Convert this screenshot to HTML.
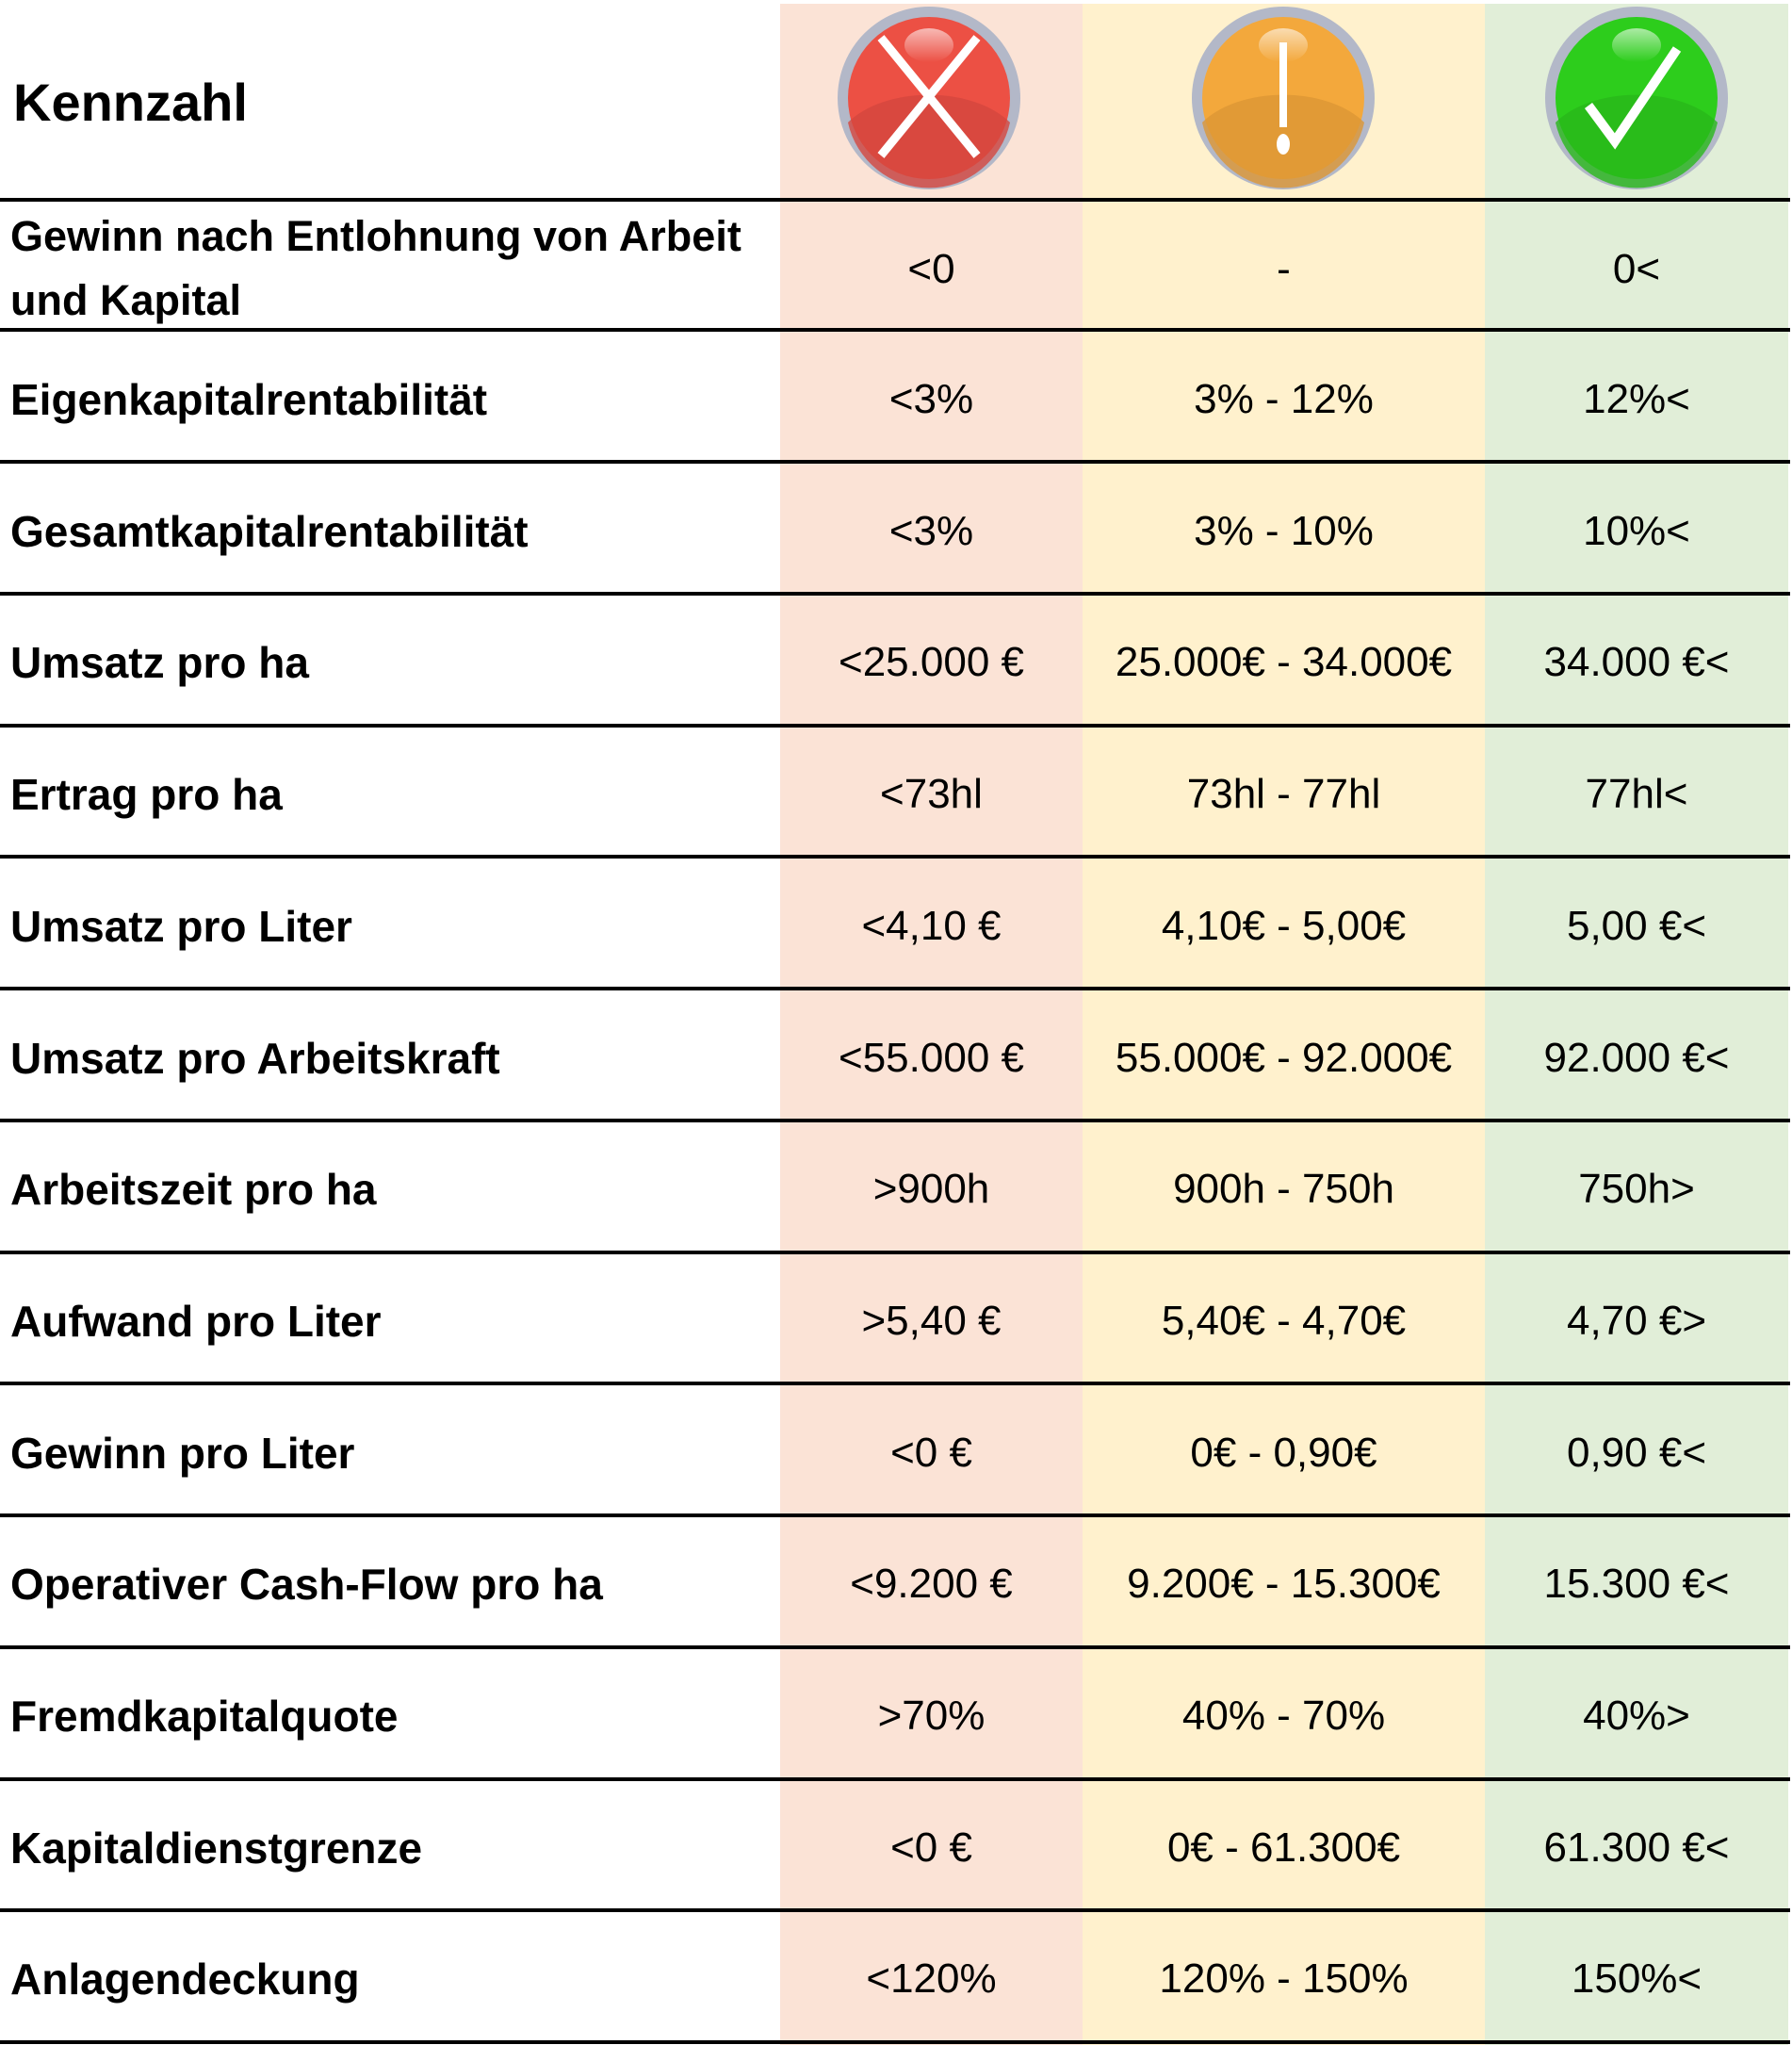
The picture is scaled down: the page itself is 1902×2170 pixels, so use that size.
<!DOCTYPE html>
<html><head><meta charset="utf-8"><style>
body{margin:0;width:1902px;height:2170px;background:#fff;position:relative;overflow:hidden;font-family:"Liberation Sans",sans-serif;}
.col{position:absolute;top:4px;height:2166px}
.line{position:absolute;left:0;width:1900px;height:4px;background:#000}
.lab{position:absolute;left:11px;font-weight:bold;font-size:46px;line-height:48px;color:#000;white-space:nowrap}
.v{position:absolute;font-size:44px;text-align:center;color:#000;line-height:48px}
</style></head><body>
<div class="col" style="left:828px;width:321px;background:#fbe3d6"></div>
<div class="col" style="left:1149px;width:427px;background:#fff1cd"></div>
<div class="col" style="left:1576px;width:322px;background:#e1eed8"></div>
<div style="position:absolute;left:14px;top:76px;font-weight:bold;font-size:56px">Kennzahl</div>
<svg style="position:absolute;left:0;top:0" width="1902" height="212">
<defs>
<linearGradient id="hl" x1="0" y1="0" x2="0" y2="1"><stop offset="0" stop-color="#fff" stop-opacity=".6"/><stop offset="1" stop-color="#fff" stop-opacity="0"/></linearGradient>
</defs>
<g>
<circle cx="986" cy="104" r="97" fill="#b3b8c8"/><circle cx="986" cy="104" r="86" fill="#ec5044"/>
<path d="M900 130 A88 88 0 0 0 1072 130 A100 60 0 0 0 900 130Z" fill="#d4463e" opacity=".8"/>
<ellipse cx="986" cy="48" rx="26" ry="18" fill="url(#hl)"/>
<path d="M935 40 L1037 165 M1037 40 L935 165" stroke="#fff" stroke-width="9"/>
</g>
<g>
<circle cx="1362" cy="104" r="97" fill="#b3b8c8"/><circle cx="1362" cy="104" r="86" fill="#f3a83c"/>
<path d="M1276 130 A88 88 0 0 0 1448 130 A100 60 0 0 0 1276 130Z" fill="#dc9634" opacity=".8"/>
<ellipse cx="1362" cy="48" rx="26" ry="18" fill="url(#hl)"/>
<rect x="1358" y="45" width="8" height="90" fill="#fff"/><ellipse cx="1362" cy="153" rx="7" ry="11" fill="#fff"/>
</g>
<g>
<circle cx="1737" cy="104" r="97" fill="#b3b8c8"/><circle cx="1737" cy="104" r="86" fill="#2dcd1c"/>
<path d="M1651 130 A88 88 0 0 0 1823 130 A100 60 0 0 0 1651 130Z" fill="#28b81a" opacity=".8"/>
<ellipse cx="1737" cy="48" rx="26" ry="18" fill="url(#hl)"/>
<path d="M1686 112 L1714 150 L1780 52" stroke="#fff" stroke-width="10" fill="none"/>
</g>
</svg>
<div class="line" style="top:210px"></div>
<div class="line" style="top:348px"></div>
<div class="line" style="top:488px"></div>
<div class="line" style="top:628px"></div>
<div class="line" style="top:768px"></div>
<div class="line" style="top:907px"></div>
<div class="line" style="top:1047px"></div>
<div class="line" style="top:1187px"></div>
<div class="line" style="top:1327px"></div>
<div class="line" style="top:1466px"></div>
<div class="line" style="top:1606px"></div>
<div class="line" style="top:1746px"></div>
<div class="line" style="top:1886px"></div>
<div class="line" style="top:2025px"></div>
<div class="line" style="top:2165px"></div>
<div class="lab" style="top:217px;line-height:68px;font-size:45px">Gewinn nach Entlohnung von Arbeit<br>und Kapital</div>
<div class="v" style="left:828px;width:321px;top:262px">&lt;0</div>
<div class="v" style="left:1149px;width:427px;top:262px">-</div>
<div class="v" style="left:1576px;width:322px;top:262px">0&lt;</div>
<div id="rows"></div>
<script>
var d=[["Eigenkapitalrentabilität","<3%","3% - 12%","12%<"],
["Gesamtkapitalrentabilität","<3%","3% - 10%","10%<"],
["Umsatz pro ha","<25.000 €","25.000€ - 34.000€","34.000 €<"],
["Ertrag pro ha","<73hl","73hl - 77hl","77hl<"],
["Umsatz pro Liter","<4,10 €","4,10€ - 5,00€","5,00 €<"],
["Umsatz pro Arbeitskraft","<55.000 €","55.000€ - 92.000€","92.000 €<"],
["Arbeitszeit pro ha",">900h","900h - 750h","750h>"],
["Aufwand pro Liter",">5,40 €","5,40€ - 4,70€","4,70 €>"],
["Gewinn pro Liter","<0 €","0€ - 0,90€","0,90 €<"],
["Operativer Cash-Flow pro ha","<9.200 €","9.200€ - 15.300€","15.300 €<"],
["Fremdkapitalquote",">70%","40% - 70%","40%>"],
["Kapitaldienstgrenze","<0 €","0€ - 61.300€","61.300 €<"],
["Anlagendeckung","<120%","120% - 150%","150%<"]];
var cols=[[828,321],[1149,427],[1576,322]];
d.forEach(function(r,i){var t=400+i*139.7;
var l=document.createElement("div");l.className="lab";l.style.top=(t)+"px";l.textContent=r[0];document.body.appendChild(l);
for(var c=0;c<3;c++){var e=document.createElement("div");e.className="v";e.style.left=cols[c][0]+"px";e.style.width=cols[c][1]+"px";e.style.top=t+"px";e.textContent=r[c+1];document.body.appendChild(e);}});
</script>
</body></html>
